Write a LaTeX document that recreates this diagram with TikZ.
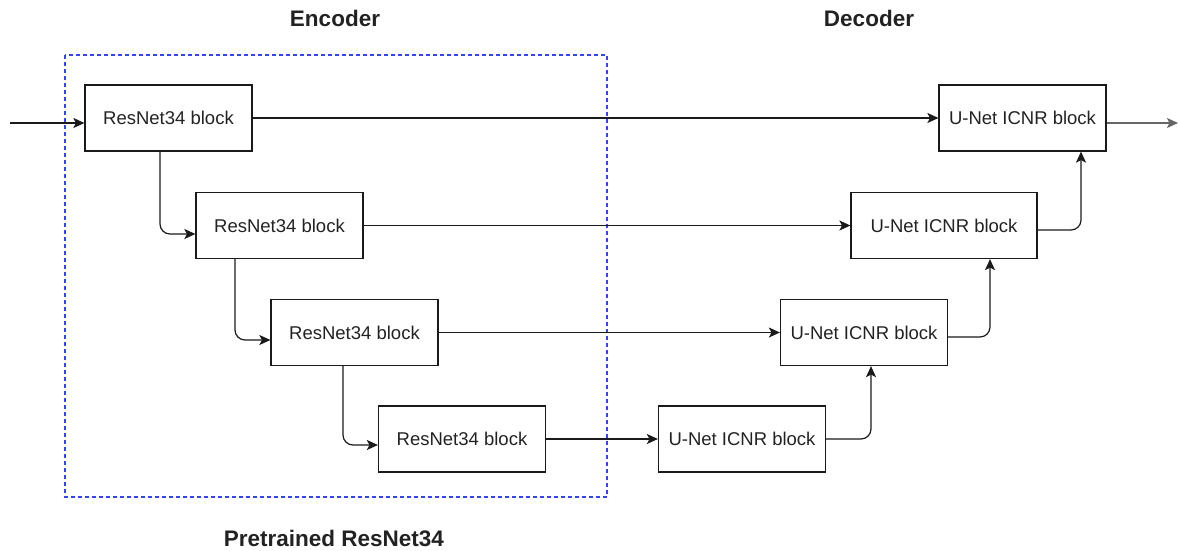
\documentclass[tikz,border=0pt]{standalone}
\usepackage{fontspec}
\setmainfont{Liberation Sans}
\usetikzlibrary{arrows.meta}
\definecolor{txt}{HTML}{222222}
\definecolor{ln}{HTML}{1A1A1A}
\definecolor{dashblue}{HTML}{3344FF}
\begin{document}
\begin{tikzpicture}[x=1pt,y=-1pt,
  blk/.style={draw=ln,line width=1.2pt,minimum width=167pt,minimum height=66pt,inner sep=0pt,
    font=\fontsize{18.5}{20}\selectfont,text=txt},
  wblk/.style={blk,minimum width=186pt},
  conn/.style={draw=ln,line width=1.2pt,-{Stealth[length=11pt,width=10pt,inset=2.5pt]}},
  rc/.style={rounded corners=10pt},
  ttl/.style={font=\fontsize{22.5}{24}\selectfont\bfseries,text=txt}]
\useasboundingbox (0,0) rectangle (1178,550);
\draw[draw=dashblue,line width=1.3pt,dash pattern=on 4pt off 3pt] (65,55) rectangle (607,497);
\node[ttl] (tenc) at (335,18) {Encoder};
\node[ttl] (tdec) at (869,18) {Decoder};
\node[ttl] (tpre) at (334,538) {Pretrained ResNet34};
\node[blk] (E1) at (168.5,118) {ResNet34 block};
\node[blk] (E2) at (279.5,225.5) {ResNet34 block};
\node[blk] (E3) at (354.5,332.5) {ResNet34 block};
\node[blk] (E4) at (462,439) {ResNet34 block};
\node[blk] (D1) at (1022.5,118) {U-Net ICNR block};
\node[wblk] (D2) at (944,225.5) {U-Net ICNR block};
\node[blk] (D3) at (864,332.5) {U-Net ICNR block};
\node[blk] (D4) at (742,439) {U-Net ICNR block};
\coordinate (in) at (10,123);
\coordinate (out) at (1178,123);
\draw[conn] (in) -- (E1.west |- in);
\draw[conn,rc] ([xshift=-8.5pt]E1.south) |- ([yshift=-8.5pt]E2.west);
\draw[conn,rc] ([xshift=-44.5pt]E2.south) |- ([yshift=-7.5pt]E3.west);
\draw[conn,rc] ([xshift=-11.5pt]E3.south) |- ([yshift=-6pt]E4.west);
\draw[conn] (E1.east) -- (D1.west);
\draw[conn] (E2.east) -- (D2.west);
\draw[conn] (E3.east) -- (D3.west);
\draw[conn] (E4.east) -- (D4.west);
\draw[conn,rc] (D4.east) -| ([xshift=7pt]D3.south);
\draw[conn,rc] ([yshift=-4.5pt]D3.east) -| ([xshift=46pt]D2.south);
\draw[conn,rc] ([yshift=-4.5pt]D2.east) -| ([xshift=58.5pt]D1.south);
\draw[conn,draw=gray!80!black] ([yshift=-5pt]D1.east) -- (out);
\end{tikzpicture}
\end{document}
